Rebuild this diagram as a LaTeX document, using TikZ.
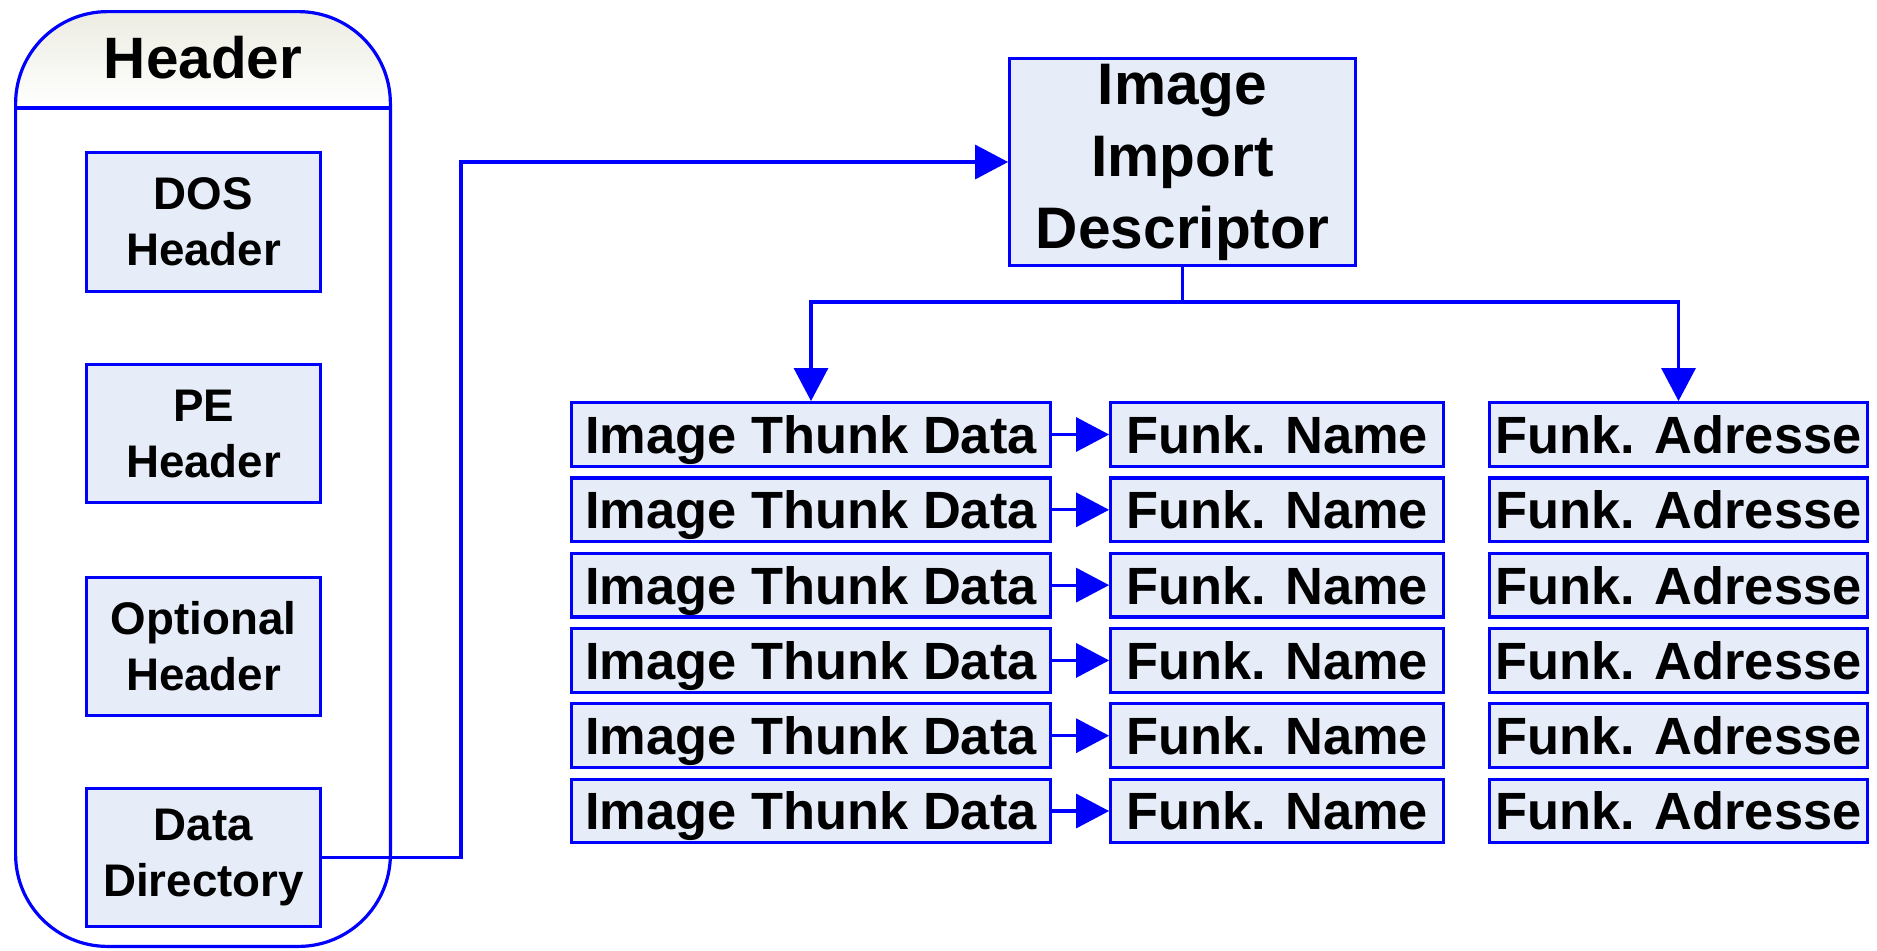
\documentclass[tikz,border=0pt]{standalone}
\usepackage{fontspec}
\setmainfont{Liberation Sans}
\usetikzlibrary{arrows.meta}
\definecolor{pblue}{RGB}{0,0,255}
\definecolor{boxfill}{RGB}{230,236,248}
\definecolor{bandtop}{RGB}{236,236,226}
\begin{document}
\begin{tikzpicture}[x=0.5pt,y=-0.5pt,line width=1.6pt,
  hbox/.style={draw=pblue, fill=boxfill, inner sep=0pt, minimum width=116.9pt, minimum height=69.2pt, align=center, font=\fontsize{22.85}{28}\selectfont\bfseries},
  rowbox/.style={draw=pblue, fill=boxfill, inner sep=0pt, minimum height=31.85pt, font=\fontsize{26.2}{30}\selectfont\bfseries, text height=18.9pt, text depth=0pt},
  bigbox/.style={draw=pblue, fill=boxfill, inner sep=0pt, minimum width=172.8pt, minimum height=103.3pt, align=center, font=\fontsize{29.3}{36}\selectfont\bfseries},
  arr/.style={draw=pblue, -{Triangle[length=16.5pt,width=17pt]}},
  conn/.style={draw=pblue}]
\useasboundingbox (0,0) rectangle (1877,950);
% container
\begin{scope}
  \clip[rounded corners=46pt] (15.6,11.6) rectangle (390.4,946.4);
  \shade[top color=bandtop, bottom color=white] (15.6,11.6) rectangle (390.4,108);
\end{scope}
\draw[pblue, rounded corners=46pt] (15.6,11.6) rectangle (390.4,946.4);
\draw[pblue] (15.6,108) -- (390.4,108);
\node[font=\fontsize{29.2}{35}\selectfont\bfseries] (title) at (203,58) {Header};
% header boxes
\node[hbox] (dos) at (203.5,222) {DOS\\Header};
\node[hbox] (pe) at (203.5,433.5) {PE\\Header};
\node[hbox] (opt) at (203.5,646.5) {Optional\\Header};
\node[hbox] (dd) at (203.5,857.5) {Data\\Directory};
% descriptor
\node[bigbox] (desc) at (1182.5,162) {Image\\Import\\Descriptor};
\coordinate (c1) at (461,0);
\draw[arr] (dd.east) -- (dd.east -| c1) |- (desc.west);
% rows
\foreach \i in {1,...,6}{
  \pgfmathsetmacro{\yy}{434.5+75.3*(\i-1)}
  \node[rowbox, minimum width=239.3pt] (t\i) at (811,\yy) {Image Thunk Data};
  \node[rowbox, minimum width=166.3pt] (n\i) at (1277,\yy) {Funk. Name};
  \node[rowbox, minimum width=188.8pt] (a\i) at (1678.5,\yy) {Funk. Adresse};
  \draw[arr] (t\i.east) -- (n\i.west);
}
\coordinate (br) at (1182.5,302);
\draw[conn] (desc.south) -- (br);
\draw[arr] (br) -| (t1.north);
\draw[arr] (br) -| (a1.north);
\end{tikzpicture}
\end{document}
